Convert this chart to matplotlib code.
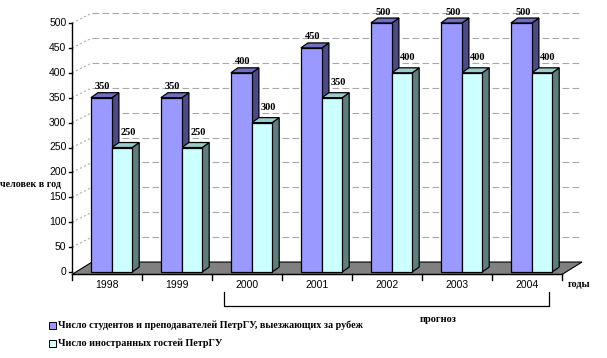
import matplotlib
matplotlib.use("Agg")
import matplotlib.pyplot as plt
from matplotlib.patches import Polygon, Rectangle

years = ["1998", "1999", "2000", "2001", "2002", "2003", "2004"]
outgoing = [350, 350, 400, 450, 500, 500, 500]   # students & staff going abroad
guests = [250, 250, 300, 350, 400, 400, 400]     # foreign guests
yticks = [0, 50, 100, 150, 200, 250, 300, 350, 400, 450, 500]

SERIF = "Liberation Serif"
SANS = "Liberation Sans"

# colours: front, side, top
PURPLE = ("#9999ff", "#4b4b8c", "#6f6fbf")
CYAN = ("#ccffff", "#5f7f7f", "#99cccc")

W_DX, W_DY = 0.286, 20      # wall depth (x units, value units)
B_DX, B_DY = 0.10, 10       # bar depth

fig = plt.figure(figsize=(6.07, 3.58), dpi=100)
ax = fig.add_axes([72 / 607, 86 / 358, 490 / 607, 249 / 358])
ax.set_xlim(0, 7)
ax.set_ylim(0, 500)
ax.axis("off")

n = len(years)

# back-wall gridlines with diagonal connectors
for v in yticks[1:]:
    ax.plot([0, W_DX], [v, v + W_DY], color="#b0b0b0", lw=0.8, ls=(0, (2, 2)),
            clip_on=False, zorder=1)
    ax.plot([W_DX, n + W_DX], [v + W_DY, v + W_DY], color="#a8a8a8", lw=0.8,
            ls=(0, (6, 3)), clip_on=False, zorder=1)

# floor
floor = Polygon([(0, -5), (n, -5), (n + W_DX, W_DY), (W_DX, W_DY)],
                closed=True, fc="#808080", ec="black", lw=0.8, zorder=2,
                clip_on=False)
ax.add_patch(floor)


def bar3d(x0, w, h, cols):
    front, side, top = cols
    y0 = 0
    ax.add_patch(Polygon([(x0 + w, y0), (x0 + w + B_DX, y0 + B_DY),
                          (x0 + w + B_DX, h + B_DY), (x0 + w, h)],
                         fc=side, ec="black", lw=0.9, zorder=3, clip_on=False))
    ax.add_patch(Polygon([(x0, h), (x0 + w, h), (x0 + w + B_DX, h + B_DY),
                          (x0 + B_DX, h + B_DY)],
                         fc=top, ec="black", lw=0.9, zorder=3, clip_on=False))
    ax.add_patch(Rectangle((x0, y0), w, h, fc=front, ec="black", lw=0.9,
                           zorder=4, clip_on=False))


for i in range(n):
    bar3d(i + 0.27, 0.30, outgoing[i], PURPLE)
    bar3d(i + 0.57, 0.29, guests[i], CYAN)
    ax.text(i + 0.44, outgoing[i] + B_DY + 3, str(outgoing[i]), ha="center",
            va="bottom", fontsize=7.5, fontweight="bold", family=SERIF, zorder=6)
    ax.text(i + 0.80, guests[i] + B_DY + 12, str(guests[i]), ha="center",
            va="bottom", fontsize=7.5, fontweight="bold", family=SERIF, zorder=6)

# y axis
ax.plot([0, 0], [0, 500], color="black", lw=1.0, clip_on=False, zorder=5)
for v in yticks:
    ax.plot([-0.05, 0], [v, v], color="black", lw=1.0, clip_on=False, zorder=5)
    ax.text(-0.08, v, str(v), ha="right", va="center", fontsize=7.5,
            family=SANS)

# x axis ticks and labels
ax.plot([0, n], [-5, -5], color="black", lw=1.0, clip_on=False, zorder=5)
for i in range(n + 1):
    ax.plot([i, i], [-5, -17], color="black", lw=1.0, clip_on=False, zorder=5)
for i, y in enumerate(years):
    ax.text(i + 0.5, -27, y, ha="center", va="center", fontsize=7.5,
            family=SANS)

ax.text(n + 0.08, -25, "годы", ha="left", va="center", fontsize=7.5,
        fontweight="bold", family=SERIF)
ax.text(-1.03, 175, "человек в год", ha="left", va="center", fontsize=7.2,
        fontweight="bold", family=SERIF)

# forecast bracket (2000-2004)
bx0, bx1 = 2.17, 6.81
ax.plot([bx0, bx0, bx1, bx1], [-40, -69, -69, -40], color="black", lw=0.9,
        clip_on=False)
ax.text(5.23, -95, "прогноз", ha="center", va="center",
        fontsize=7.5, fontweight="bold", family=SERIF)

# legend
legend = [("Число студентов и преподавателей ПетрГУ, выезжающих за рубеж",
           PURPLE[0]),
          ("Число иностранных гостей ПетрГУ", CYAN[0])]
for k, (lab, col) in enumerate(legend):
    ypx = 325 + k * 18
    fig.patches.append(Rectangle((49 / 607, 1 - (ypx + 3.5) / 358), 7 / 607,
                                 7 / 358, transform=fig.transFigure,
                                 fc=col, ec="black", lw=0.7))
    fig.text(58 / 607, 1 - ypx / 358, lab, ha="left", va="center",
             fontsize=7.3, fontweight="bold", family=SERIF)

fig.savefig("out.png", dpi=100, facecolor="white")
